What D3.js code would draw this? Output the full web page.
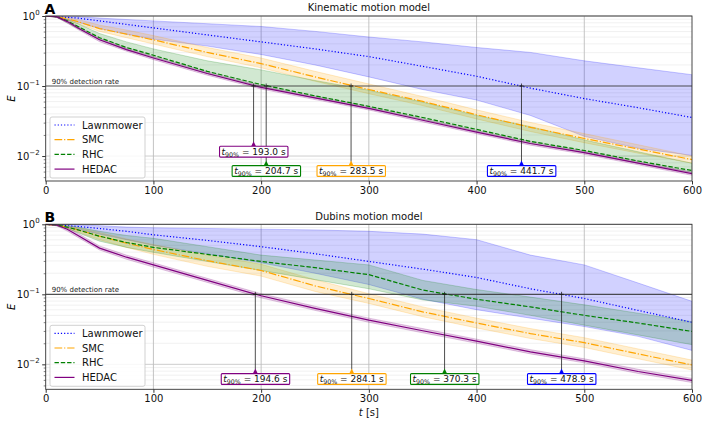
<!DOCTYPE html>
<html>
<head>
<meta charset="utf-8">
<script src="https://cdn.jsdelivr.net/npm/d3@7"></script>
<style>
  html, body { margin: 0; padding: 0; background: #fff; }
  text { font-family: "DejaVu Sans", sans-serif; }
</style>
</head>
<body>
<script>
// time grid (s) shared by every series
var T = [0, 10, 20, 30, 50, 75, 100, 150, 200, 250, 300, 350, 400, 450, 500, 550, 600];

var methods = ["Lawnmower", "SMC", "RHC", "HEDAC"];
var colors = ["blue", "orange", "green", "purple"];
var dashes = ["1.2,2", "7.7,1.9,1.2,1.9", "4.4,1.9", null];

// --- A: kinematic motion model ---
var kinLawnMean = [1, 0.977, 0.955, 0.933, 0.851, 0.759, 0.676, 0.537, 0.427, 0.339, 0.263, 0.191, 0.138, 0.0933, 0.0661, 0.049, 0.0355];
var kinLawnLo   = [1, 0.955, 0.891, 0.813, 0.661, 0.55, 0.468, 0.372, 0.282, 0.2, 0.135, 0.0891, 0.0631, 0.038, 0.0191, 0.0129, 0.0102];
var kinLawnHi   = [1, 1, 0.977, 0.977, 0.933, 0.891, 0.851, 0.776, 0.708, 0.603, 0.501, 0.427, 0.355, 0.302, 0.229, 0.182, 0.145];

var kinSmcMean = [1, 0.977, 0.912, 0.832, 0.661, 0.55, 0.457, 0.302, 0.209, 0.135, 0.0891, 0.0603, 0.0389, 0.0257, 0.0178, 0.0126, 0.0089];
var kinSmcLo   = [1, 0.955, 0.871, 0.776, 0.603, 0.49, 0.398, 0.263, 0.182, 0.117, 0.0776, 0.0525, 0.0339, 0.0224, 0.0155, 0.011, 0.0079];
var kinSmcHi   = [1, 1, 0.955, 0.891, 0.741, 0.631, 0.525, 0.355, 0.251, 0.162, 0.107, 0.0708, 0.0457, 0.0302, 0.0209, 0.0145, 0.01];

var kinRhcMean = [1, 0.977, 0.851, 0.708, 0.49, 0.355, 0.275, 0.162, 0.105, 0.0724, 0.0513, 0.0355, 0.024, 0.0162, 0.012, 0.0085, 0.0062];
var kinRhcLo   = [1, 0.96, 0.8, 0.66, 0.46, 0.33, 0.257, 0.151, 0.098, 0.0676, 0.0479, 0.0331, 0.0224, 0.0151, 0.0112, 0.0079, 0.0058];
var kinRhcHi   = [1, 0.977, 0.891, 0.776, 0.562, 0.427, 0.339, 0.229, 0.17, 0.12, 0.0871, 0.0589, 0.038, 0.0263, 0.017, 0.0115, 0.0079];

var kinHedacMean = [1, 0.977, 0.832, 0.676, 0.457, 0.331, 0.251, 0.151, 0.0955, 0.0676, 0.0479, 0.0324, 0.0219, 0.0151, 0.0112, 0.0079, 0.0056];
var kinHedacLo   = [1, 0.96, 0.79, 0.64, 0.43, 0.315, 0.238, 0.143, 0.0905, 0.064, 0.0455, 0.0307, 0.0208, 0.0143, 0.0106, 0.0075, 0.0053];
var kinHedacHi   = [1, 0.99, 0.87, 0.71, 0.48, 0.35, 0.265, 0.16, 0.101, 0.0715, 0.0505, 0.0342, 0.0232, 0.016, 0.0118, 0.0084, 0.0059];

var kinT90 = [441.7, 283.5, 204.7, 193.0];

// --- B: Dubins motion model ---
var dubLawnMean = [1, 0.977, 0.955, 0.933, 0.871, 0.794, 0.708, 0.589, 0.479, 0.38, 0.295, 0.229, 0.174, 0.12, 0.0871, 0.0589, 0.0398];
var dubLawnLo   = [1, 0.955, 0.912, 0.851, 0.724, 0.603, 0.501, 0.38, 0.282, 0.2, 0.138, 0.0851, 0.0603, 0.0457, 0.0347, 0.0251, 0.0158];
var dubLawnHi   = [1, 1, 1, 0.977, 0.955, 0.912, 0.891, 0.871, 0.851, 0.832, 0.794, 0.724, 0.603, 0.363, 0.263, 0.145, 0.0794];

var dubSmcMean = [1, 0.977, 0.912, 0.832, 0.676, 0.537, 0.437, 0.302, 0.219, 0.132, 0.0871, 0.0562, 0.0389, 0.0275, 0.0204, 0.0141, 0.0098];
var dubSmcLo   = [1, 0.955, 0.871, 0.776, 0.603, 0.468, 0.372, 0.251, 0.182, 0.11, 0.0741, 0.0479, 0.0331, 0.0234, 0.0174, 0.012, 0.0083];
var dubSmcHi   = [1, 1, 0.955, 0.891, 0.759, 0.617, 0.513, 0.363, 0.269, 0.162, 0.102, 0.0661, 0.0457, 0.0324, 0.024, 0.0166, 0.0115];

var dubRhcMean = [1, 0.977, 0.912, 0.832, 0.676, 0.55, 0.468, 0.372, 0.295, 0.24, 0.191, 0.115, 0.0851, 0.0661, 0.0501, 0.0389, 0.0295];
var dubRhcLo   = [1, 0.955, 0.871, 0.759, 0.575, 0.468, 0.398, 0.295, 0.219, 0.162, 0.12, 0.0832, 0.0676, 0.0501, 0.0363, 0.0263, 0.0191];
var dubRhcHi   = [1, 1, 0.955, 0.912, 0.794, 0.692, 0.631, 0.479, 0.363, 0.309, 0.263, 0.158, 0.117, 0.0912, 0.0708, 0.0537, 0.0407];

var dubHedacMean = [1, 0.977, 0.851, 0.692, 0.457, 0.339, 0.263, 0.158, 0.0955, 0.0631, 0.0427, 0.0302, 0.0214, 0.0151, 0.0112, 0.0079, 0.0059];
var dubHedacLo   = [1, 0.955, 0.8, 0.65, 0.43, 0.317, 0.245, 0.148, 0.089, 0.059, 0.0399, 0.0282, 0.02, 0.0141, 0.0105, 0.0074, 0.0055];
var dubHedacHi   = [1, 0.99, 0.9, 0.74, 0.49, 0.363, 0.282, 0.169, 0.102, 0.0676, 0.0457, 0.0324, 0.0229, 0.0162, 0.012, 0.0085, 0.0063];

var dubT90 = [478.9, 284.1, 370.3, 194.6];

var xTicks = [0, 100, 200, 300, 400, 500, 600];
var yTicks = [1, 0.1, 0.01];
var yTickExp = ["0", "\u22121", "\u22122"];
var threshold = 0.1;

var W = 706, H = 424;
var plotH = 165;

var svg = d3.select("body").append("svg")
    .attr("width", W)
    .attr("height", H);

var x = d3.scaleLinear().domain([0, 600]).range([45.7, 692]);

function drawPanel(p) {
    var top = p.top,
        y = d3.scaleLog().domain([0.0044, 1]).range([top + plotH, top]),
        g = svg.append("g"),
        clipId = "clip-" + p.letter;

    svg.append("defs").append("clipPath").attr("id", clipId)
        .append("rect")
        .attr("x", x(0)).attr("y", top)
        .attr("width", x(600) - x(0)).attr("height", plotH);

    // minor horizontal grid
    var minor = [];
    [0.001, 0.01, 0.1].forEach(function (d) {
        for (var k = 2; k <= 9; k++) minor.push(d * k);
    });
    minor = minor.filter(function (v) { return v > 0.0044 && v < 1; });

    g.append("g").selectAll("line").data(minor).join("line")
        .attr("x1", x(0)).attr("x2", x(600))
        .attr("y1", function (d) { return y(d); })
        .attr("y2", function (d) { return y(d); })
        .attr("stroke", "#ebebeb").attr("stroke-width", 0.7);

    // major grid
    g.append("g").selectAll("line").data([1, 0.01]).join("line")
        .attr("x1", x(0)).attr("x2", x(600))
        .attr("y1", function (d) { return y(d); })
        .attr("y2", function (d) { return y(d); })
        .attr("stroke", "#c8c8c8").attr("stroke-width", 0.9);

    g.append("g").selectAll("line").data(xTicks.slice(1, -1)).join("line")
        .attr("x1", function (d) { return x(d); })
        .attr("x2", function (d) { return x(d); })
        .attr("y1", top).attr("y2", top + plotH)
        .attr("stroke", "#bdbdbd").attr("stroke-width", 0.9);

    var plot = g.append("g").attr("clip-path", "url(#" + clipId + ")");

    var idx = d3.range(T.length);

    // bands + lines, drawn per method in legend order
    p.series.forEach(function (s, i) {
        var area = d3.area()
            .x(function (k) { return x(T[k]); })
            .y0(function (k) { return y(s.lo[k]); })
            .y1(function (k) { return y(s.hi[k]); });

        plot.append("path")
            .attr("d", area(idx))
            .attr("fill", colors[i])
            .attr("fill-opacity", 0.18)
            .attr("stroke", colors[i])
            .attr("stroke-opacity", 0.3)
            .attr("stroke-width", 0.7);
    });

    p.series.forEach(function (s, i) {
        var line = d3.line()
            .x(function (k) { return x(T[k]); })
            .y(function (k) { return y(s.mean[k]); });

        plot.append("path")
            .attr("d", line(idx))
            .attr("fill", "none")
            .attr("stroke", colors[i])
            .attr("stroke-width", 1.2)
            .attr("stroke-dasharray", dashes[i]);
    });

    // 90% detection threshold
    g.append("line")
        .attr("x1", x(0)).attr("x2", x(600))
        .attr("y1", y(threshold)).attr("y2", y(threshold))
        .attr("stroke", "#333").attr("stroke-opacity", 0.85)
        .attr("stroke-width", 1.2);

    g.append("text")
        .attr("x", x(0) + 6).attr("y", y(threshold) - 2.3)
        .attr("font-size", 7).attr("fill", "#222")
        .text("90% detection rate");

    // t90 annotations
    p.t90.forEach(function (t, i) {
        var cx = x(t),
            boxC = top + p.rows[i],
            boxTop = boxC - 5.4,
            apex = boxTop - 5;

        g.append("line")
            .attr("x1", cx).attr("x2", cx)
            .attr("y1", y(threshold) - 2.5).attr("y2", apex + 1)
            .attr("stroke", "#222").attr("stroke-width", 0.8);

        g.append("line")
            .attr("x1", cx - 2.2).attr("x2", cx + 2.2)
            .attr("y1", y(threshold)).attr("y2", y(threshold))
            .attr("stroke", "#111").attr("stroke-width", 0.8);

        g.append("path")
            .attr("d", "M" + cx + "," + apex + "L" + (cx - 2.4) + "," + boxTop +
                  "L" + (cx + 2.4) + "," + boxTop + "Z")
            .attr("fill", colors[i]);

        var box = g.append("rect");
        var txt = g.append("text")
            .attr("x", cx).attr("y", boxC + 3.2)
            .attr("text-anchor", "middle")
            .attr("font-size", 9).attr("fill", "#111");
        txt.append("tspan").attr("font-style", "italic").text("t");
        txt.append("tspan").attr("font-size", 6.3).attr("dy", 1.8).text("90%");
        txt.append("tspan").attr("dy", -1.8).text(" = " + t.toFixed(1) + " s");

        var bb = txt.node().getBBox();
        box.attr("x", bb.x - 2).attr("y", boxTop)
            .attr("width", bb.width + 4).attr("height", 10.8)
            .attr("rx", 1)
            .attr("fill", "white")
            .attr("stroke", colors[i])
            .attr("stroke-width", 1.1);
    });

    // frame
    g.append("rect")
        .attr("x", x(0)).attr("y", top)
        .attr("width", x(600) - x(0)).attr("height", plotH)
        .attr("fill", "none").attr("stroke", "#333").attr("stroke-width", 0.9);

    // axes
    var xAxis = g.append("g")
        .attr("transform", "translate(0," + (top + plotH) + ")")
        .call(d3.axisBottom(x).tickValues(xTicks).tickSize(3.5).tickPadding(2.5));
    xAxis.select(".domain").remove();
    xAxis.selectAll("text").attr("font-size", 10).attr("fill", "#111")
        .style("font-family", "DejaVu Sans");
    xAxis.selectAll("line").attr("stroke", "#333");

    var yAxis = g.append("g")
        .attr("transform", "translate(" + x(0) + ",0)")
        .call(d3.axisLeft(y).tickValues(yTicks).tickSize(3.5).tickFormat(""));
    yAxis.select(".domain").remove();
    yAxis.selectAll("line").attr("stroke", "#333");

    var yMinor = g.append("g")
        .attr("transform", "translate(" + x(0) + ",0)")
        .call(d3.axisLeft(y).tickValues(minor).tickSize(2).tickFormat(""));
    yMinor.select(".domain").remove();
    yMinor.selectAll("line").attr("stroke", "#333").attr("stroke-width", 0.6);

    yTicks.forEach(function (v, i) {
        var t = g.append("text")
            .attr("x", x(0) - 6).attr("y", y(v) + 3.6)
            .attr("text-anchor", "end")
            .attr("font-size", 10).attr("fill", "#111");
        t.append("tspan").text("10");
        t.append("tspan").attr("font-size", 7).attr("dy", -4.5).text(yTickExp[i]);
    });

    // y label
    g.append("text")
        .attr("transform", "translate(15," + (top + plotH / 2) + ") rotate(-90)")
        .attr("text-anchor", "middle")
        .attr("font-size", 10).attr("font-style", "italic")
        .text("E");

    // title + panel letter
    g.append("text")
        .attr("x", (x(0) + x(600)) / 2).attr("y", top - 4.6)
        .attr("text-anchor", "middle").attr("font-size", 10)
        .attr("fill", "#111")
        .text(p.title);

    g.append("text")
        .attr("x", 44.5).attr("y", top - 2.2)
        .attr("font-size", 14).attr("font-weight", "bold")
        .text(p.letter);

    // legend
    var lg = g.append("g").attr("transform", "translate(50," + (top + 101) + ")");
    lg.append("rect")
        .attr("width", 95).attr("height", 61).attr("rx", 2)
        .attr("fill", "white").attr("fill-opacity", 0.85)
        .attr("stroke", "#cccccc").attr("stroke-width", 0.9);

    methods.forEach(function (m, i) {
        var ly = 8 + i * 14.7;
        lg.append("line")
            .attr("x1", 4.5).attr("x2", 24.5)
            .attr("y1", ly).attr("y2", ly)
            .attr("stroke", colors[i]).attr("stroke-width", 1.2)
            .attr("stroke-dasharray", dashes[i]);
        lg.append("text")
            .attr("x", 32).attr("y", ly + 3.6)
            .attr("font-size", 10).attr("fill", "#111")
            .text(m);
    });
}

drawPanel({
    top: 16,
    letter: "A",
    title: "Kinematic motion model",
    t90: kinT90,
    rows: [155, 155, 155, 135.7],
    series: [
        { mean: kinLawnMean, lo: kinLawnLo, hi: kinLawnHi },
        { mean: kinSmcMean, lo: kinSmcLo, hi: kinSmcHi },
        { mean: kinRhcMean, lo: kinRhcLo, hi: kinRhcHi },
        { mean: kinHedacMean, lo: kinHedacLo, hi: kinHedacHi }
    ]
});

drawPanel({
    top: 224.3,
    letter: "B",
    title: "Dubins motion model",
    t90: dubT90,
    rows: [154.7, 154.7, 154.7, 154.7],
    series: [
        { mean: dubLawnMean, lo: dubLawnLo, hi: dubLawnHi },
        { mean: dubSmcMean, lo: dubSmcLo, hi: dubSmcHi },
        { mean: dubRhcMean, lo: dubRhcLo, hi: dubRhcHi },
        { mean: dubHedacMean, lo: dubHedacLo, hi: dubHedacHi }
    ]
});

// shared x label
var xl = svg.append("text")
    .attr("x", (x(0) + x(600)) / 2).attr("y", 416)
    .attr("text-anchor", "middle").attr("font-size", 10).attr("fill", "#111");
xl.append("tspan").attr("font-style", "italic").text("t");
xl.append("tspan").text(" [s]");
</script>
</body>
</html>
